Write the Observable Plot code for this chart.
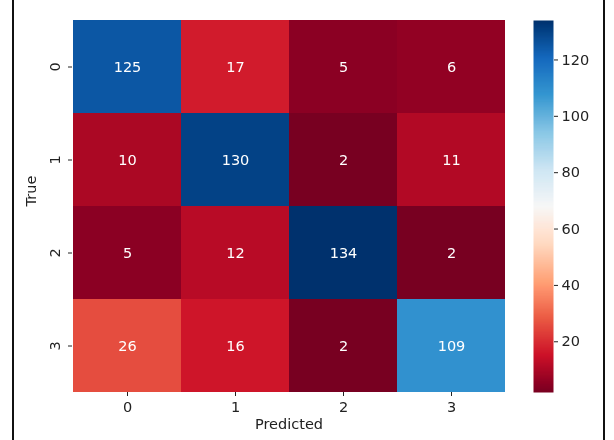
<!DOCTYPE html>
<html>
<head>
<meta charset="utf-8">
<script src="https://cdn.jsdelivr.net/npm/d3@7"></script>
<script src="https://cdn.jsdelivr.net/npm/@observablehq/plot@0.6"></script>
<style>
  html, body { margin: 0; padding: 0; background: #fff; }
  #frame { position: relative; width: 614px; height: 440px; overflow: hidden; background: #fff; }
  #frame .rule { position: absolute; top: 0; width: 2px; height: 440px; background: #111; }
  #heat { position: absolute; left: 0; top: 0; }
  #bar { position: absolute; left: 520px; top: 0; }
  /* slightly richer rendering of the diverging palette */
  #heat svg, #bar svg { filter: saturate(1.22); }
</style>
</head>
<body>
<div id="frame">
  <div class="rule" style="left:12px"></div>
  <div class="rule" style="left:603px"></div>
  <div id="heat"></div>
  <div id="bar"></div>
</div>
<script>
// Confusion matrix: rows are true classes, columns are predicted classes
const predictedLabels = ["0", "1", "2", "3"];
const trueLabels = ["0", "1", "2", "3"];
const row0 = [125, 17, 5, 6];
const row1 = [10, 130, 2, 11];
const row2 = [5, 12, 134, 2];
const row3 = [26, 16, 2, 109];
const colorbarTicks = [20, 40, 60, 80, 100, 120];

// RdBu colour stops, interpolated linearly between neighbours
const rdbuStops = ["#67001f", "#b2182b", "#d6604d", "#f4a582", "#fddbc7", "#f7f7f7",
                   "#d1e5f0", "#92c5de", "#4393c3", "#2166ac", "#053061"];

const rows = [row0, row1, row2, row3];
const cells = rows.flatMap((r, i) =>
  r.map((v, j) => ({ truth: trueLabels[i], predicted: predictedLabels[j], value: v }))
);
const allValues = cells.map(d => d.value);
const vmin = d3.min(allValues), vmax = d3.max(allValues);

const font = { fontFamily: "'DejaVu Sans', sans-serif", fontSize: "14.5px", color: "#222" };
const colorScale = { type: "linear", domain: [vmin, vmax], interpolate: d3.piecewise(d3.interpolateRgb, rdbuStops) };

const heat = Plot.plot({
  width: 520,
  height: 440,
  marginLeft: 72,
  marginRight: 15,
  marginTop: 20,
  marginBottom: 48,
  style: font,
  x: { domain: predictedLabels, padding: 0, label: null },
  y: { domain: trueLabels, padding: 0, label: null },
  color: colorScale,
  marks: [
    Plot.cell(cells, { x: "predicted", y: "truth", fill: "value", inset: 0 }),
    Plot.text(cells, { x: "predicted", y: "truth", text: d => String(d.value), fill: "white", fontSize: 14.5 }),
    Plot.axisX({ tickSize: 4, tickPadding: 5, label: null }),
    Plot.axisY({ tickSize: 4, tickPadding: 9, tickRotate: -90, label: null }),
    Plot.text(["Predicted"], { frameAnchor: "bottom", dy: 36, fontSize: 14.5 }),
    Plot.text(["True"], { frameAnchor: "left", dx: -41, rotate: -90, fontSize: 14.5 })
  ]
});
document.getElementById("heat").appendChild(heat);

// Vertical colour bar sharing the heatmap's colour scale
const bar = Plot.plot({
  width: 80,
  height: 440,
  marginLeft: 13,
  marginRight: 47,
  marginTop: 20,
  marginBottom: 48,
  style: font,
  x: { domain: [0, 1], axis: null },
  y: { domain: [vmin, vmax], label: null },
  color: colorScale,
  marks: [
    Plot.raster({ x1: 0, x2: 1, y1: vmin, y2: vmax, width: 1, height: 300, fill: (x, y) => y, imageRendering: "auto" }),
    Plot.axisY({ anchor: "right", ticks: colorbarTicks, tickSize: 4, tickPadding: 4, label: null })
  ]
});
document.getElementById("bar").appendChild(bar);
</script>
</body>
</html>
